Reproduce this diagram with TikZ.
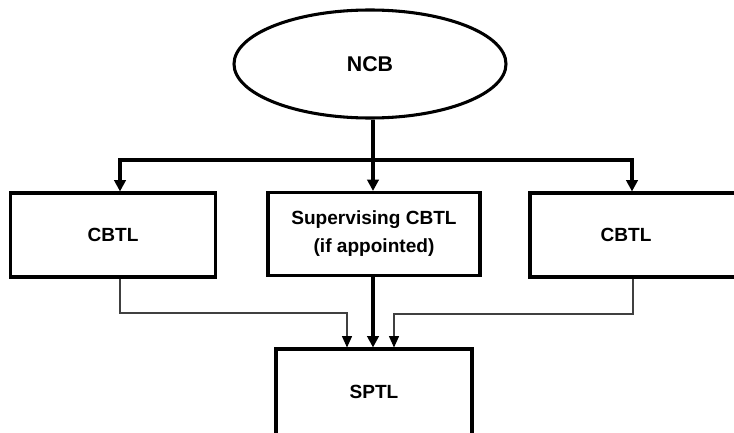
\documentclass[tikz,border=0pt]{standalone}
\usepackage{fontspec}
\setmainfont{Liberation Sans}
\usetikzlibrary{arrows.meta,shapes.geometric}
\begin{document}
\begin{tikzpicture}[x=0.75pt,y=-0.75pt,
  box/.style={draw,line width=2.3pt,rectangle,inner sep=0pt,align=center,
    font=\fontsize{14.3}{21}\selectfont\bfseries},
  bigarr/.style={line width=2.3pt,-{Triangle[width=8.5pt,length=8.5pt]}},
  thinarr/.style={line width=0.8pt,draw=black!75,-{Triangle[width=7.5pt,length=8.5pt,fill=black,color=black]}},
  lbl/.style={font=\fontsize{16}{19}\selectfont\bfseries}]
\useasboundingbox (0,0) rectangle (734,432);
\clip (0,0) rectangle (734,432);
\fill[white] (0,0) rectangle (734,432);
\node[draw,ellipse,line width=2.3pt,minimum width=272*0.75pt,minimum height=108*0.75pt,inner sep=0pt,lbl] (ncb) at (370,64) {NCB};
\node[box,minimum width=205*0.75pt,minimum height=84*0.75pt] (c1) at (113,235) {CBTL};
\node[box,minimum width=212*0.75pt,minimum height=83*0.75pt] (sup) at (374,234) {Supervising CBTL\\(if appointed)};
\node[box,minimum width=232*0.75pt,minimum height=84*0.75pt,text width=232*0.75pt] (c2) at (646,235) {\hspace*{-30pt}CBTL};
\node[box,minimum width=196*0.75pt,minimum height=86*0.75pt] (sptl) at (374,392) {SPTL};
\coordinate (hl) at (120,160);
\coordinate (hr) at (632,160);
\draw[bigarr] (ncb.south -| 373,0) -- (sup.north -| 373,0);
\draw[bigarr] (hr -| 373,0) -- (hl) -- (c1.north -| hl);
\draw[bigarr] (hl -| 373,0) -- (hr) -- (c2.north -| hr);
\draw[bigarr] (sup.south -| 373,0) -- (sptl.north -| 373,0);
\coordinate (l1) at (120,313);
\coordinate (r1) at (633,314);
\draw[thinarr] (c1.south -| l1) -- (l1) -- (347,313) -- (sptl.north -| 347,0);
\draw[thinarr] (c2.south -| r1) -- (r1) -- (394,314) -- (sptl.north -| 394,0);
\end{tikzpicture}
\end{document}
